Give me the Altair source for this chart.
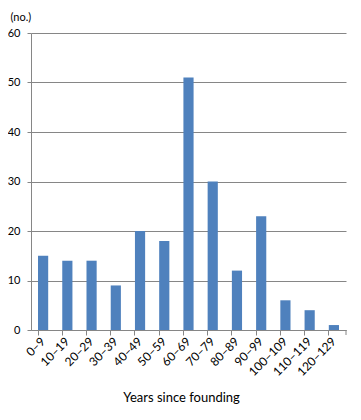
import altair as alt
import pandas as pd

categories = ["0–9", "10–19", "20–29", "30–39", "40–49", "50–59", "60–69",
              "70–79", "80–89", "90–99", "100–109", "110–119", "120–129"]
counts = [15, 14, 14, 9, 20, 18, 51, 30, 12, 23, 6, 4, 1]
y_ticks = [0, 10, 20, 30, 40, 50, 60]

df = pd.DataFrame({"cat": categories, "n": counts})
FONT = "Lato"
GRID = "#868686"

bars = alt.Chart(df).mark_bar(color="#4F81BD").encode(
    x=alt.X("cat:N", sort=categories,
            scale=alt.Scale(paddingInner=0.58, paddingOuter=0.29),
            axis=alt.Axis(title="Years since founding", labelAngle=-45,
                          labelAlign="right", labelBaseline="middle",
                          labelPadding=4, bandPosition=0, tickSize=5,
                          tickColor=GRID, domainColor=GRID, labelColor="#000",
                          labelFont=FONT, labelFontSize=12,
                          titleFont=FONT, titleFontSize=13, titleFontWeight="normal",
                          titleColor="#000", titleY=67, titleX=150,
                          titleBaseline="middle")),
    y=alt.Y("n:Q", scale=alt.Scale(domain=[0, 60]),
            axis=alt.Axis(values=y_ticks, title="(no.)", titleAngle=0,
                          titleAlign="left", titleBaseline="middle",
                          titleX=-21, titleY=-16, titleFont=FONT,
                          titleFontSize=11, titleFontWeight="normal",
                          titleColor="#000", labelFont=FONT, labelFontSize=11,
                          labelColor="#000", labelPadding=7, tickSize=4,
                          tickColor=GRID, domainColor=GRID,
                          grid=True, gridColor=GRID, gridWidth=1)),
)

end_tick = alt.Chart(pd.DataFrame({"v": [0]})).mark_rule(color=GRID).encode(
    x=alt.value(315), y=alt.value(297), y2=alt.value(302)
)

chart = alt.layer(bars, end_tick).properties(
    width=315, height=297,
    autosize=alt.AutoSizeParams(type="none"),
    padding={"left": 23, "top": 25, "right": 7, "bottom": 82},
).configure_view(stroke=None)

chart.save("out.html", embed_options={"renderer": "svg", "actions": False})
